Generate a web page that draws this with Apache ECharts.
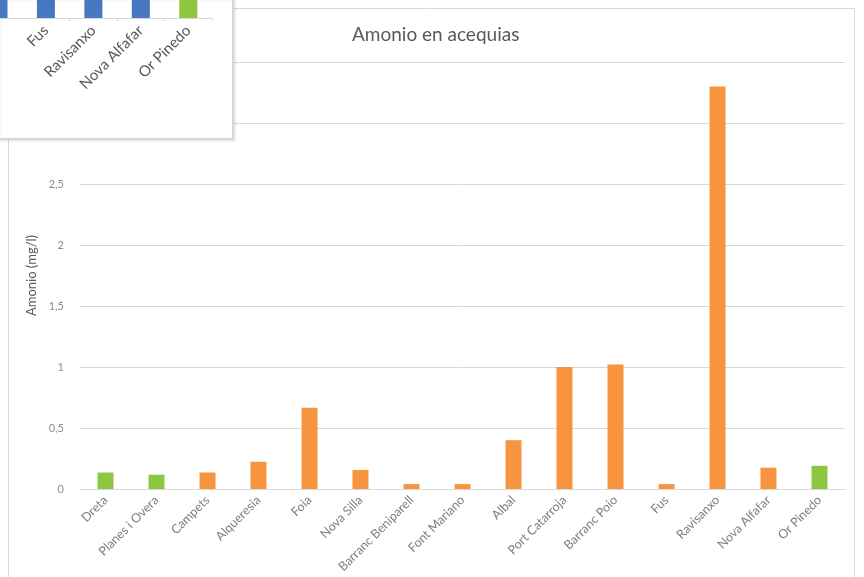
<!DOCTYPE html>
<html>
<head>
<meta charset="utf-8">
<script src="https://cdn.jsdelivr.net/npm/echarts@6/dist/echarts.min.js"></script>
<style>
html,body{margin:0;padding:0;background:#fff;}
#chart{width:864px;height:577px;}
</style>
</head>
<body>
<div id="chart"></div>
<script>
// ---- data ----
const categories = ['Dreta','Planes i Overa','Campets','Alqueresia','Foia','Nova Silla','Barranc Beniparell','Font Mariano','Albal','Port Catarroja','Barranc Poio','Fus','Ravisanxo','Nova Alfafar','Or Pinedo'];
const amonio = [0.135, 0.117, 0.135, 0.223, 0.666, 0.156, 0.04, 0.04, 0.40, 1.00, 1.02, 0.04, 3.30, 0.175, 0.19];
const greenCategories = ['Dreta','Planes i Overa','Or Pinedo'];
const yTicks = [0, 0.5, 1, 1.5, 2, 2.5, 3, 3.5];

// cropped inset chart (only its bottom strip is visible; bar tops are above the visible area)
const insetCategories = ['Barranc Poio','Fus','Ravisanxo','Nova Alfafar','Or Pinedo'];
const insetValues = [5, 5, 5, 5, 5];
const insetGreen = ['Or Pinedo'];

const ORANGE = '#f7943f';
const GREEN = '#8dc63f';
const BLUE = '#4677c0';

const chart = echarts.init(document.getElementById('chart'));
const fmt = v => String(v).replace('.', ',');
const insetIdx = insetCategories.map((c, i) => i);

chart.setOption({
  backgroundColor: '#ffffff',
  animation: false,
  title: {
    text: 'Amonio en acequias',
    left: 347, top: 20,
    textStyle: {fontFamily: 'Lato', fontSize: 19, fontWeight: 'normal', color: '#595959'}
  },
  graphic: [
    {type: 'rect', z: 0, silent: true,
     shape: {x: 8.5, y: 8.5, width: 846, height: 600},
     style: {fill: 'none', stroke: '#d9d9d9', lineWidth: 1}},
    {type: 'rect', z: 15, silent: true,
     shape: {x: -2, y: -2, width: 235, height: 141},
     style: {fill: '#ffffff', stroke: '#cfcfcf', lineWidth: 1.5,
             shadowBlur: 3, shadowColor: 'rgba(0,0,0,0.12)', shadowOffsetX: 1, shadowOffsetY: 1}}
  ],
  grid: [
    {left: 80, right: 19, top: 62, bottom: 88},
    {left: 0, width: 212, top: 0, height: 18}
  ],
  xAxis: [
    {type: 'category', gridIndex: 0, data: categories,
     axisLine: {lineStyle: {color: '#d9d9d9'}},
     axisTick: {show: false},
     axisLabel: {interval: 0, rotate: 45, margin: 9, fontFamily: 'Lato', fontSize: 12.5, color: '#7f7f7f'}},
    {type: 'value', gridIndex: 1, min: 0.032, max: 4.5, z: 20,
     splitLine: {show: false},
     axisLine: {show: true, onZero: false, lineStyle: {color: '#d9d9d9'}},
     axisTick: {show: true, length: 3, lineStyle: {color: '#d9d9d9'},
                customValues: insetIdx.slice(1).map(i => i + 0.5)},
     axisLabel: {rotate: 45, margin: 10, fontFamily: 'Lato', fontSize: 15, color: '#595959',
                 customValues: insetIdx.slice(1),
                 formatter: v => insetCategories[Math.round(v)] || ''}}
  ],
  yAxis: [
    {type: 'value', gridIndex: 0, min: 0, max: 3.5, interval: 0.5,
     name: 'Amonio (mg/l)', nameLocation: 'middle', nameGap: 41, nameRotate: 90,
     nameTextStyle: {fontFamily: 'Lato', fontSize: 13, color: '#595959'},
     axisLine: {show: false}, axisTick: {show: false},
     axisLabel: {margin: 16, fontFamily: 'Lato', fontSize: 11, color: '#8c8c8c',
                 formatter: v => yTicks.includes(v) ? fmt(v) : ''},
     splitLine: {lineStyle: {color: '#d9d9d9'}}},
    {type: 'value', gridIndex: 1, min: 0, max: 1, z: 20,
     axisLine: {show: false}, axisTick: {show: false}, axisLabel: {show: false},
     splitLine: {show: false}}
  ],
  series: [
    {type: 'bar', xAxisIndex: 0, yAxisIndex: 0, barWidth: 16,
     data: amonio.map((v, i) => ({value: v,
        itemStyle: {color: greenCategories.includes(categories[i]) ? GREEN : ORANGE}}))},
    {type: 'bar', xAxisIndex: 1, yAxisIndex: 1, barWidth: 18, z: 20, clip: true,
     data: insetValues.map((v, i) => ({value: [i, v],
        itemStyle: {color: insetGreen.includes(insetCategories[i]) ? GREEN : BLUE}}))}
  ]
});
</script>
</body>
</html>
